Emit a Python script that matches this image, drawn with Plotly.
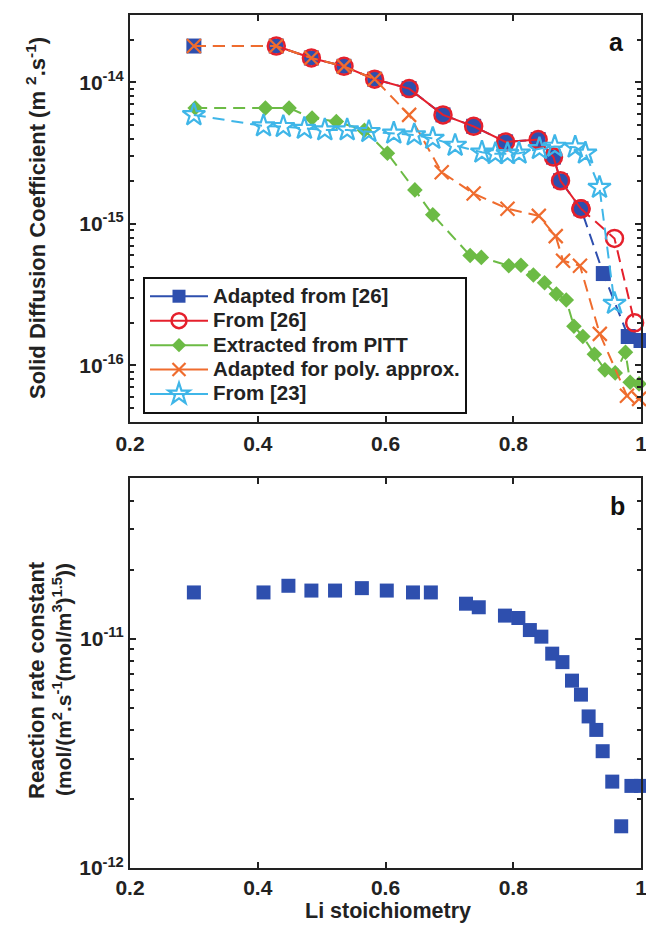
import plotly.graph_objects as go

# ---------------- data: panel a ----------------
blue_x = [0.30, 0.429, 0.484, 0.535, 0.583, 0.637, 0.690, 0.738, 0.788, 0.839, 0.863, 0.874, 0.906, 0.941, 0.980, 1.0]
blue_y = [1.81e-14, 1.81e-14, 1.49e-14, 1.30e-14, 1.055e-14, 9.05e-15, 5.9e-15, 4.9e-15, 3.8e-15, 3.95e-15,
          2.97e-15, 2.02e-15, 1.28e-15, 4.46e-16, 1.6e-16, 1.5e-16]

red_x = [0.429, 0.484, 0.535, 0.583, 0.637, 0.690, 0.738, 0.788, 0.839, 0.863, 0.874, 0.906, 0.9585, 0.990]
red_y = [1.81e-14, 1.49e-14, 1.30e-14, 1.055e-14, 9.05e-15, 5.9e-15, 4.9e-15, 3.8e-15, 3.95e-15, 2.97e-15,
         2.02e-15, 1.28e-15, 7.9e-16, 2.0e-16]
red_solid_count = 12

green_x = [0.302, 0.412, 0.449, 0.485, 0.523, 0.567, 0.603, 0.646, 0.674, 0.7325, 0.750, 0.793, 0.812, 0.8315,
           0.849, 0.8675, 0.883, 0.895, 0.909, 0.927, 0.9435, 0.9596, 0.9757, 0.983, 0.997]
green_y = [6.6e-15, 6.6e-15, 6.6e-15, 5.6e-15, 5.3e-15, 4.6e-15, 3.16e-15, 1.74e-15, 1.16e-15, 5.98e-16, 5.8e-16,
           5.06e-16, 5.1e-16, 4.36e-16, 3.84e-16, 3.2e-16, 2.9e-16, 1.89e-16, 1.6e-16, 1.2e-16, 9.3e-17, 8.85e-17,
           1.24e-16, 7.6e-17, 7.4e-17]

orange_x = [0.30, 0.429, 0.484, 0.535, 0.583, 0.637, 0.688, 0.738, 0.791, 0.840, 0.8665, 0.878, 0.9045, 0.9355,
            0.978, 0.997]
orange_y = [1.81e-14, 1.81e-14, 1.49e-14, 1.30e-14, 1.055e-14, 5.9e-15, 2.32e-15, 1.64e-15, 1.28e-15, 1.14e-15,
            8.2e-16, 5.5e-16, 5.06e-16, 1.67e-16, 6.1e-17, 5.8e-17]

star_x = [0.300, 0.409, 0.440, 0.473, 0.505, 0.540, 0.574, 0.613, 0.645, 0.674, 0.709, 0.751, 0.772, 0.791, 0.809,
          0.841, 0.865, 0.897, 0.913, 0.935, 0.9585]
star_y = [5.9e-15, 4.92e-15, 4.87e-15, 4.73e-15, 4.61e-15, 4.61e-15, 4.49e-15, 4.37e-15, 4.25e-15, 4.02e-15,
          3.59e-15, 3.21e-15, 3.13e-15, 3.13e-15, 3.16e-15, 3.4e-15, 3.53e-15, 3.49e-15, 3.16e-15, 1.81e-15,
          2.74e-16]

# ---------------- data: panel b ----------------
k_x = [0.300, 0.409, 0.448, 0.484, 0.521, 0.563, 0.602, 0.643, 0.671, 0.726, 0.746, 0.787, 0.808, 0.826, 0.844,
       0.861, 0.877, 0.892, 0.906, 0.918, 0.930, 0.940, 0.955, 0.969, 0.985, 1.0]
k_y = [1.59e-11, 1.59e-11, 1.70e-11, 1.62e-11, 1.62e-11, 1.66e-11, 1.62e-11, 1.59e-11, 1.59e-11, 1.42e-11,
       1.37e-11, 1.26e-11, 1.23e-11, 1.09e-11, 1.02e-11, 8.6e-12, 7.9e-12, 6.56e-12, 5.7e-12, 4.58e-12, 4.0e-12,
       3.23e-12, 2.38e-12, 1.52e-12, 2.28e-12, 2.28e-12]

x_ticks = [0.2, 0.4, 0.6, 0.8, 1.0]
x_ticktext = ["0.2", "0.4", "0.6", "0.8", "1"]
ya_ticks = [1e-16, 1e-15, 1e-14]
ya_ticktext = ["10<sup>-16</sup>", "10<sup>-15</sup>", "10<sup>-14</sup>"]
yb_ticks = [1e-12, 1e-11]
yb_ticktext = ["10<sup>-12</sup>", "10<sup>-11</sup>"]

names = ["Adapted from [26]", "From [26]", "Extracted from PITT", "Adapted for poly. approx.", "From [23]"]

C_BLUE = "#2E4FAE"
C_RED = "#E5202C"
C_GREEN = "#6CBB45"
C_ORANGE = "#EF6C2E"
C_CYAN = "#3FB6E8"
DASH = "12px,7px"
FAM = "Liberation Sans, Arial, sans-serif"

fig = go.Figure()

def add(x, y, color, symbol, size, dash, lw=2, mline=None, ax="1"):
    marker = dict(symbol=symbol, size=size, color=color)
    if mline:
        marker["line"] = mline
    fig.add_trace(go.Scatter(
        x=x, y=y, mode="lines+markers", showlegend=False, cliponaxis=False,
        line=dict(color=color, width=lw, dash=dash), marker=marker,
        xaxis="x" if ax == "1" else "x2", yaxis="y" if ax == "1" else "y2"))

# blue squares
add(blue_x, blue_y, C_BLUE, "square", 15, DASH)
# red circles: solid then dashed extension
add(red_x[:red_solid_count], red_y[:red_solid_count], C_RED, "circle-open", 17, "solid",
    mline=dict(color=C_RED, width=2.5))
add(red_x[red_solid_count - 1:], red_y[red_solid_count - 1:], C_RED, "circle-open", 17, DASH,
    mline=dict(color=C_RED, width=2.5))
# green diamonds
add(green_x, green_y, C_GREEN, "diamond", 12, DASH)
# orange crosses
add(orange_x, orange_y, C_ORANGE, "x-thin-open", 14, DASH, mline=dict(color=C_ORANGE, width=2.2))
# stars
add(star_x, star_y, C_CYAN, "star-open", 17, DASH, mline=dict(color=C_CYAN, width=2.2))

# panel b
fig.add_trace(go.Scatter(x=k_x, y=k_y, mode="markers", showlegend=False, cliponaxis=False,
                         marker=dict(symbol="square", size=14, color=C_BLUE),
                         xaxis="x2", yaxis="y2"))

# legend entries (solid lines as in original legend)
leg_specs = [
    (C_BLUE, dict(symbol="square", size=13, color=C_BLUE)),
    (C_RED, dict(symbol="circle-open", size=15, color=C_RED, line=dict(color=C_RED, width=2.5))),
    (C_GREEN, dict(symbol="diamond", size=11, color=C_GREEN)),
    (C_ORANGE, dict(symbol="x-thin-open", size=13, color=C_ORANGE, line=dict(color=C_ORANGE, width=2.2))),
    (C_CYAN, dict(symbol="star-open", size=16, color=C_CYAN, line=dict(color=C_CYAN, width=2.2))),
]
for nm, (col, mk) in zip(names, leg_specs):
    fig.add_trace(go.Scatter(x=[None], y=[None], mode="lines+markers",
                             name='<span style="font-size:20.5px">' + nm + '</span>',
                             line=dict(color=col, width=2), marker=mk, xaxis="x", yaxis="y"))

W, H = 646, 925
ML, MR, MT, MB = 130, 5, 15, 57
ph = H - MT - MB
pw = W - ML - MR
def fy(py):
    return (H - MB - py) / ph
def fx(px):
    return (px - ML) / pw

axis_line = dict(showline=True, linecolor="#222", linewidth=2, mirror="allticks", ticks="inside",
                 ticklen=6, tickwidth=1.5, tickcolor="#222", showgrid=False, zeroline=False,
                 automargin=False, ticklabeloverflow="allow")
font_tick = dict(family=FAM, size=21, color="#222", weight="bold")

def minor_vals(lo, hi):
    vals = []
    for e in range(lo, hi):
        for m in range(2, 10):
            vals.append(m * 10.0 ** e)
    return vals

fig.update_layout(
    width=W, height=H, margin=dict(l=ML, r=MR, t=MT, b=MB),
    paper_bgcolor="white", plot_bgcolor="white",
    font=dict(family=FAM, color="#222", weight="bold"),
    xaxis=dict(domain=[0, 1], range=[0.2, 1.0], anchor="y", tickvals=x_ticks, ticktext=x_ticktext,
               tickfont=font_tick, ticklabelstandoff=2, **axis_line),
    yaxis=dict(domain=[fy(421.7), 1], type="log", range=[-16.398, -13.523], anchor="x",
               tickvals=ya_ticks, ticktext=ya_ticktext, tickfont=font_tick,
               minor=dict(ticks="inside", ticklen=4, tickcolor="#222", tickvals=minor_vals(-17, -13)),
               **axis_line),
    xaxis2=dict(domain=[0, 1], range=[0.2, 1.0], anchor="y2", tickvals=x_ticks, ticktext=x_ticktext,
                tickfont=font_tick, ticklabelstandoff=0, **axis_line),
    yaxis2=dict(domain=[0, fy(478.3)], type="log", range=[-12, -10.301], anchor="x2",
                tickvals=yb_ticks, ticktext=yb_ticktext, tickfont=font_tick,
                minor=dict(ticks="inside", ticklen=4, tickcolor="#222", tickvals=minor_vals(-12, -10)),
                **axis_line),
    legend=dict(x=fx(143), y=fy(277), xanchor="left", yanchor="top", bgcolor="white",
                bordercolor="#111", borderwidth=2, itemwidth=58,
                font=dict(family=FAM, size=16.5, color="#222", weight="bold"),
                itemsizing="trace"),
    annotations=[
        dict(text="a", x=fx(616), y=fy(42), xref="paper", yref="paper", showarrow=False,
             xanchor="center", yanchor="middle", font=dict(family=FAM, size=25, weight="bold", color="#111")),
        dict(text="b", x=fx(617), y=fy(506), xref="paper", yref="paper", showarrow=False,
             xanchor="center", yanchor="middle", font=dict(family=FAM, size=25, weight="bold", color="#111")),
        dict(text="Solid Diffusion Coefficient (m <sup>2</sup>.s<sup>-1</sup>)", textangle=-90,
             x=fx(36), y=fy(218), xref="paper", yref="paper", showarrow=False,
             xanchor="center", yanchor="middle", font=dict(family=FAM, size=22, weight="bold", color="#222")),
        dict(text="Reaction rate constant", textangle=-90,
             x=fx(36), y=fy(680), xref="paper", yref="paper", showarrow=False,
             xanchor="center", yanchor="middle", font=dict(family=FAM, size=22, weight="bold", color="#222")),
        dict(text="(mol/(m<sup>2</sup>.s<sup>-1</sup>(mol/m<sup>3</sup>)<sup>1.5</sup>))", textangle=-90,
             x=fx(62), y=fy(680), xref="paper", yref="paper", showarrow=False,
             xanchor="center", yanchor="middle", font=dict(family=FAM, size=21, weight="bold", color="#222")),
        dict(text="Li stoichiometry", x=fx(388), y=fy(925), xref="paper", yref="paper", showarrow=False,
             xanchor="center", yanchor="bottom", font=dict(family=FAM, size=21.5, weight="bold", color="#222")),
    ],
)

fig.write_html("out.html", config={"displayModeBar": False},
               post_script="document.body.style.margin='0px';document.body.style.overflow='hidden';")
